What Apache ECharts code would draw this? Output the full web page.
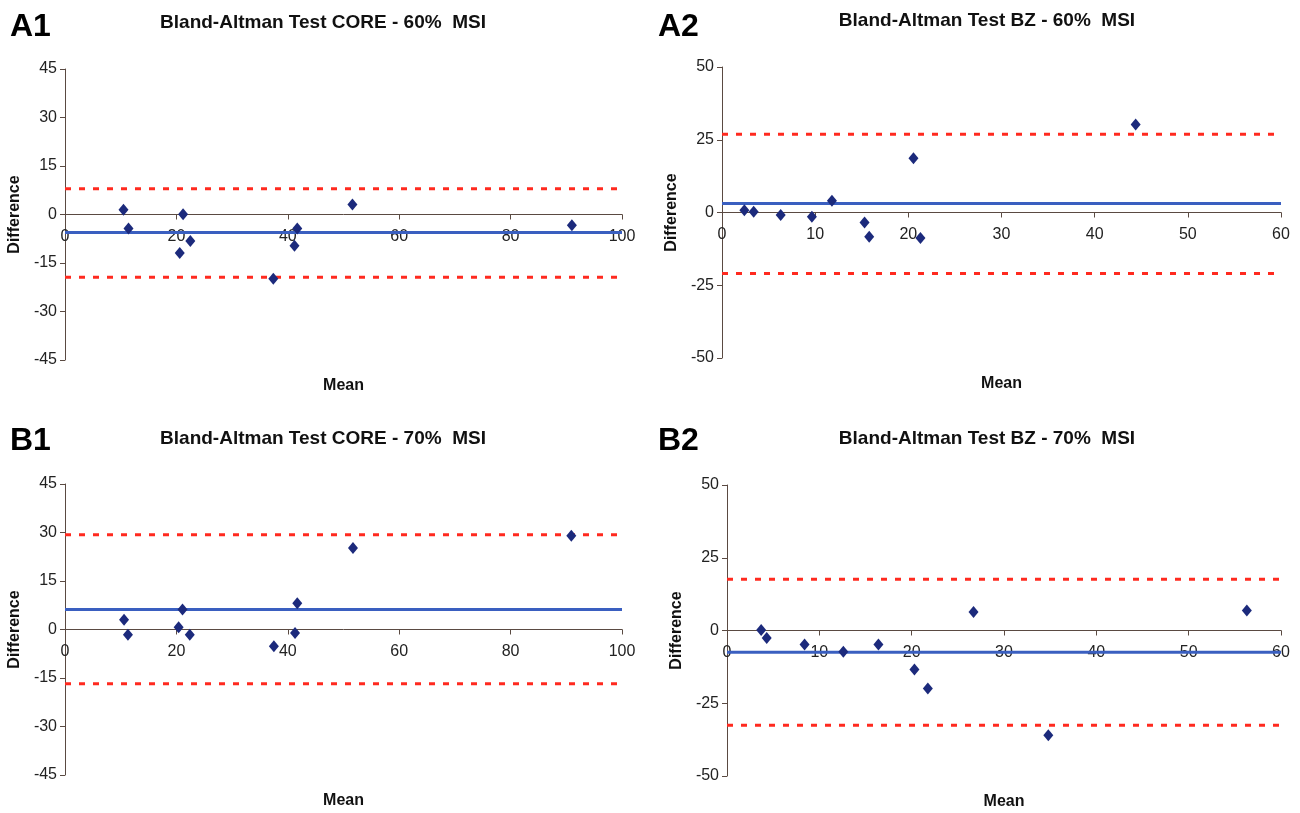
<!DOCTYPE html>
<html>
<head>
<meta charset="utf-8">
<script src="https://cdn.jsdelivr.net/npm/echarts@6/dist/echarts.min.js"></script>
<style>html,body{margin:0;padding:0;background:#fff}#c{width:1300px;height:813px}</style>
</head>
<body>
<div id="c"></div>
<script>
// ---- Data ----
const panelLabels = ['A1', 'A2', 'B1', 'B2'];
const panelTitles = [
  'Bland-Altman Test CORE - 60%  MSI',
  'Bland-Altman Test BZ - 60%  MSI',
  'Bland-Altman Test CORE - 70%  MSI',
  'Bland-Altman Test BZ - 70%  MSI'
];
// A1: CORE 60%
const a1Mean = [10.5, 11.4, 21.2, 20.6, 22.5, 37.4, 41.2, 41.7, 51.6, 91.0];
const a1Diff = [1.5, -4.3, 0.1, -11.9, -8.2, -19.9, -9.7, -4.3, 3.1, -3.3];
const a1Bias = -5.6, a1Upper = 8.0, a1Lower = -19.4;
// A2: BZ 60%
const a2Mean = [2.4, 3.4, 6.3, 9.65, 11.8, 15.3, 15.8, 20.55, 21.3, 44.4];
const a2Diff = [0.8, 0.3, -0.9, -1.5, 4.0, -3.4, -8.3, 18.6, -8.75, 30.2];
const a2Bias = 3.1, a2Upper = 26.9, a2Lower = -21.0;
// B1: CORE 70%
const b1Mean = [10.6, 11.3, 20.4, 21.1, 22.4, 37.5, 41.3, 41.7, 51.7, 90.9];
const b1Diff = [3.0, -1.6, 0.7, 6.2, -1.6, -5.2, -1.1, 8.1, 25.2, 29.0];
const b1Bias = 6.2, b1Upper = 29.3, b1Lower = -16.8;
// B2: BZ 70%
const b2Mean = [3.7, 4.3, 8.4, 12.6, 16.4, 20.3, 21.75, 26.7, 34.8, 56.3];
const b2Diff = [0.2, -2.6, -4.8, -7.3, -4.8, -13.4, -19.9, 6.4, -36.0, 6.9];
const b2Bias = -7.5, b2Upper = 17.6, b2Lower = -32.6;

const xMax = [100, 60, 100, 60];
const xInterval = [20, 10, 20, 10];
const yMin = [-45, -50, -45, -50];
const yMax = [45, 50, 45, 50];
const yInterval = [15, 25, 15, 25];
const xName = 'Mean';
const yName = 'Difference';

const panels = [
  {mean: a1Mean, diff: a1Diff, bias: a1Bias, upper: a1Upper, lower: a1Lower},
  {mean: a2Mean, diff: a2Diff, bias: a2Bias, upper: a2Upper, lower: a2Lower},
  {mean: b1Mean, diff: b1Diff, bias: b1Bias, upper: b1Upper, lower: b1Lower},
  {mean: b2Mean, diff: b2Diff, bias: b2Bias, upper: b2Upper, lower: b2Lower}
];

// ---- Layout ----
const grids = [
  {left: 65, top: 69, width: 557, height: 291},
  {left: 722, top: 67, width: 559, height: 291},
  {left: 65, top: 484, width: 557, height: 291},
  {left: 727, top: 485, width: 554, height: 291}
];
const labelPos = [[5, 6], [653, 6], [5, 420], [653, 420]];
const titlePos = [[318, 8], [982, 6], [318, 424], [982, 424]];

const FONT = '"Liberation Sans", Arial, sans-serif';
const axisColor = '#5a4a42';

const option = {
  animation: false,
  backgroundColor: '#fff',
  title: [],
  grid: [],
  xAxis: [],
  yAxis: [],
  series: []
};

panels.forEach((p, i) => {
  const g = grids[i];
  const zeroOffset = -g.height * (0 - yMin[i]) / (yMax[i] - yMin[i]);
  option.title.push({
    text: panelLabels[i], left: labelPos[i][0], top: labelPos[i][1],
    textStyle: {fontFamily: FONT, fontSize: 32, fontWeight: 'bold', color: '#000'}
  });
  option.title.push({
    text: panelTitles[i], left: titlePos[i][0], top: titlePos[i][1], textAlign: 'center',
    textStyle: {fontFamily: FONT, fontSize: 19, fontWeight: 'bold', color: '#111'}
  });
  option.grid.push(Object.assign({containLabel: false, outerBoundsMode: 'none'}, g));
  option.xAxis.push({
    type: 'value', gridIndex: i, min: 0, max: xMax[i], interval: xInterval[i],
    position: 'bottom', offset: zeroOffset,
    name: xName, nameLocation: 'middle', nameGap: 163,
    nameTextStyle: {fontFamily: FONT, fontSize: 16, fontWeight: 'bold', color: '#111'},
    axisLine: {onZero: false, lineStyle: {color: axisColor, width: 1}},
    axisTick: {show: true, inside: false, length: 5, lineStyle: {color: axisColor}},
    axisLabel: {fontFamily: FONT, fontSize: 16, color: '#222', margin: 14},
    splitLine: {show: false}
  });
  option.yAxis.push({
    type: 'value', gridIndex: i, min: yMin[i], max: yMax[i], interval: yInterval[i],
    name: yName, nameLocation: 'middle', nameGap: 42, nameRotate: 90,
    nameTextStyle: {fontFamily: FONT, fontSize: 16, fontWeight: 'bold', color: '#111'},
    axisLine: {show: true, onZero: false, lineStyle: {color: axisColor, width: 1}},
    axisTick: {show: true, inside: false, length: 5, lineStyle: {color: axisColor}},
    axisLabel: {fontFamily: FONT, fontSize: 16, color: '#222', margin: 8},
    splitLine: {show: false}
  });
  const refLine = (v, color, type, w) => ({
    type: 'line', xAxisIndex: i, yAxisIndex: i, symbol: 'none', silent: true,
    data: [[0, v], [xMax[i], v]],
    lineStyle: {color: color, width: w, type: type}, z: 2
  });
  option.series.push(refLine(p.upper, '#ff2a1f', [6, 8], 3));
  option.series.push(refLine(p.lower, '#ff2a1f', [6, 8], 3));
  option.series.push(refLine(p.bias, '#3a5fc0', 'solid', 3));
  option.series.push({
    type: 'scatter', xAxisIndex: i, yAxisIndex: i, symbol: 'diamond', symbolSize: [10, 12],
    itemStyle: {color: '#1c2a7c', opacity: 1}, z: 5,
    data: p.mean.map((m, k) => [m, p.diff[k]])
  });
});

const chart = echarts.init(document.getElementById('c'), null, {renderer: 'canvas'});
chart.setOption(option);
</script>
</body>
</html>
